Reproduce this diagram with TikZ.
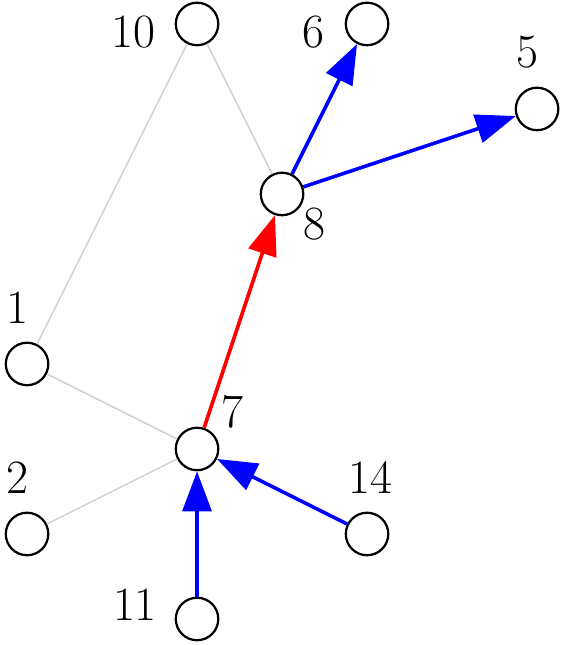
\documentclass[tikz,border=0pt]{standalone}
\usetikzlibrary{arrows.meta}
\begin{document}
\begin{tikzpicture}[
	vertex/.style={circle, draw, line width=0.75pt, minimum size=5mm, inner sep=0pt},
	tag/.style={font=\fontsize{16}{19}\selectfont, inner sep=0pt},
	faint/.style={draw=black!18, line width=0.5pt},
	push/.style={draw=blue, line width=1.2pt, -{Triangle[length=4.7mm, width=3.4mm]}},
	pull/.style={push, draw=red}]
	\useasboundingbox (-0.318, -0.306) rectangle (6.282, 7.282);
	% vertices
	\node[vertex] (v10) at (2, 7) {};
	\node[vertex] (v6) at (4, 7) {};
	\node[vertex] (v5) at (6, 6) {};
	\node[vertex] (v8) at (3, 5) {};
	\node[vertex] (v1) at (0, 3) {};
	\node[vertex] (v7) at (2, 2) {};
	\node[vertex] (v2) at (0, 1) {};
	\node[vertex] (v14) at (4, 1) {};
	\node[vertex] (v11) at (2, 0) {};
	% numbers
	\node[tag] (t10) at (1.247, 6.906) {10};
	\node[tag] (t6) at (3.365, 6.906) {6};
	\node[tag] (t5) at (5.882, 6.67) {5};
	\node[tag] (t8) at (3.376, 4.647) {8};
	\node[tag] (t1) at (-0.118, 3.659) {1};
	\node[tag] (t7) at (2.412, 2.435) {7};
	\node[tag] (t2) at (-0.118, 1.659) {2};
	\node[tag] (t14) at (4.035, 1.659) {14};
	\node[tag] (t11) at (1.27, 0.165) {11};
	% edges
	\draw[faint] (v10) -- (v1);
	\draw[faint] (v10) -- (v8);
	\draw[faint] (v1) -- (v7);
	\draw[faint] (v2) -- (v7);
	\draw[pull] (v7) -- (v8);
	\draw[push] (v8) -- (v6);
	\draw[push] (v8) -- (v5);
	\draw[push] (v14) -- (v7);
	\draw[push] (v11) -- (v7);
\end{tikzpicture}
\end{document}
